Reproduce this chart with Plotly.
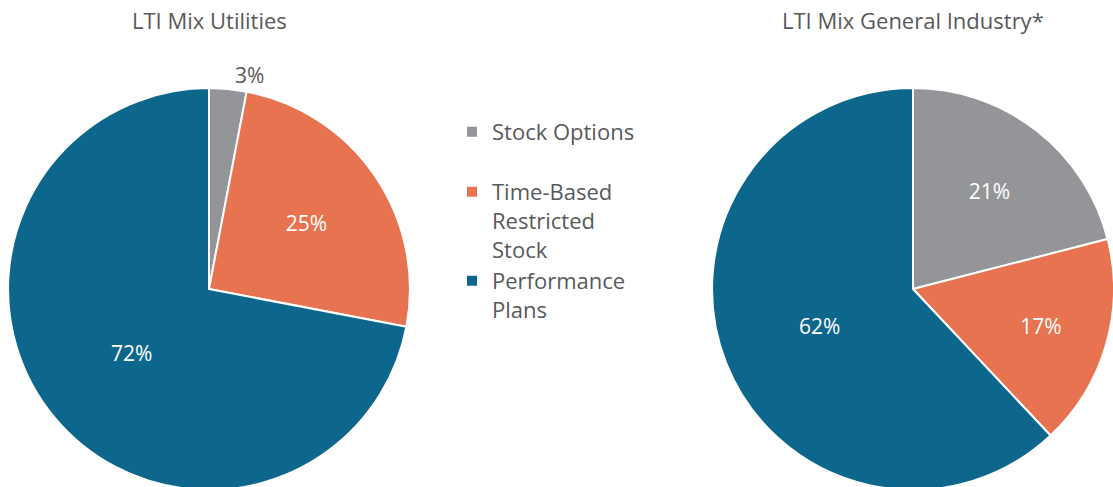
import plotly.graph_objects as go

categories = ["Stock Options<br>", "Time-Based<br>Restricted<br>Stock", "Performance<br>Plans"]
utilities = [3, 25, 72]
general_industry = [21, 17, 62]
titles = ["LTI Mix Utilities", "LTI Mix General Industry*"]
colors = ["#949598", "#E87351", "#0D678C"]

W, H = 1117, 495
FONT = "Open Sans, Lato, sans-serif"
TXT = "#595959"

def dom(cx, cy, r):
    return dict(x=[max(0, (cx - r) / W), min(1, (cx + r) / W)],
                y=[max(0, (H - cy - r) / H), min(1, (H - cy + r) / H)])

fig = go.Figure()
for i, (vals, cx) in enumerate([(utilities, 209), (general_industry, 913)]):
    fig.add_trace(go.Pie(
        labels=categories, values=vals, sort=False, direction="clockwise", rotation=0,
        marker=dict(colors=colors, line=dict(color="white", width=2)),
        texttemplate="%{value}%", textposition="auto",
        insidetextfont=dict(color="white", size=21, family=FONT),
        outsidetextfont=dict(color=TXT, size=21, family=FONT),
        domain=dom(cx, 292, 203), showlegend=(i == 0), hoverinfo="label+value",
        insidetextorientation="horizontal",
    ))
    fig.add_annotation(text=titles[i], x=cx / W, y=1 - 20 / H, xref="paper", yref="paper",
                       xanchor="center", yanchor="middle",
                       showarrow=False, font=dict(size=22, color=TXT, family=FONT))

fig.update_layout(
    width=W, height=H, margin=dict(l=0, r=0, t=0, b=0),
    paper_bgcolor="white", plot_bgcolor="white",
    legend=dict(x=452 / W, y=1 - 112 / H, xanchor="left", yanchor="top", valign="top",
                font=dict(size=22, color="#58595B", family=FONT), itemwidth=30),
)
fig.write_html("out.html", config={"displayModeBar": False},
               post_script="document.body.style.margin='0';")
